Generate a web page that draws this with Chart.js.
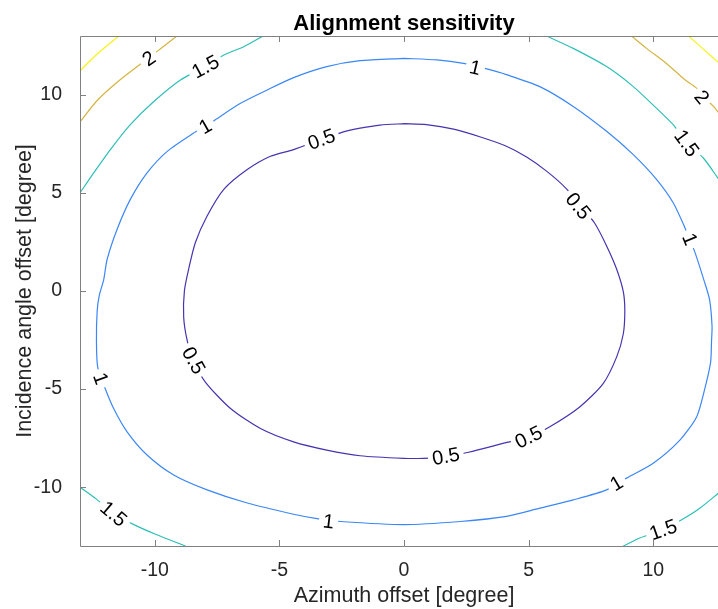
<!DOCTYPE html>
<html lang="en">
<head>
<meta charset="UTF-8" />
<title>Alignment sensitivity</title>
<script src="https://cdn.jsdelivr.net/npm/chart.js"></script>
<style>
  html, body { margin:0; padding:0; background:#fff; overflow:hidden; }
  #wrap { width:718px; height:609px; overflow:hidden; position:relative; }
  #contour { position:absolute; left:0; top:0; }
</style>
</head>
<body>
<div id="wrap"><canvas id="contour" width="728" height="609"></canvas></div>
<script>
// --------- Contour data: [azimuth, incidence] in degrees ---------
const xTicks = [-10, -5, 0, 5, 10];
const yTicks = [-10, -5, 0, 5, 10];

const level05 = [
  [0.02,8.53],[0.90,8.48],[1.99,8.25],[3.07,7.85],[4.11,7.38],[4.92,6.83],[5.72,6.11],
  [6.52,5.21],[7.08,4.33],[7.64,3.48],[8.13,2.30],[8.53,1.12],[8.80,-0.04],[8.86,-1.00],
  [8.80,-2.18],[8.53,-3.37],[7.99,-4.72],[7.05,-5.91],[5.85,-6.92],[5.00,-7.45],[4.13,-7.72],
  [2.59,-8.22],[1.67,-8.44],[0.78,-8.53],[-0.02,-8.53],[-1.76,-8.40],[-3.10,-8.11],[-4.43,-7.69],
  [-5.76,-7.01],[-6.96,-5.99],[-7.97,-4.64],[-8.45,-3.54],[-8.70,-2.52],[-8.84,-1.34],[-8.81,0.02],
  [-8.64,1.12],[-8.37,2.47],[-7.90,3.82],[-7.23,5.18],[-6.29,6.19],[-5.36,6.87],[-4.43,7.21],
  [-3.31,7.73],[-2.46,8.10],[-1.76,8.30],[-0.96,8.46],[0.02,8.53]
];
const level10 = [
  [0.02,11.86],[1.32,11.78],[2.39,11.60],[3.32,11.32],[4.11,11.03],[5.45,10.42],[6.79,9.41],
  [8.13,8.14],[9.20,6.95],[10.13,5.69],[10.80,4.50],[11.27,3.23],[11.66,2.02],[12.03,0.57],
  [12.26,-0.44],[12.36,-1.80],[12.34,-2.52],[12.30,-3.65],[12.03,-5.18],[11.74,-6.42],[11.07,-7.60],
  [10.00,-8.78],[8.93,-9.54],[8.13,-10.14],[6.79,-10.65],[5.45,-11.07],[4.11,-11.49],[2.26,-11.75],
  [-0.02,-11.91],[-2.56,-11.75],[-3.43,-11.62],[-4.43,-11.38],[-6.29,-10.81],[-7.90,-10.14],
  [-9.24,-9.38],[-10.31,-8.36],[-11.11,-7.18],[-11.65,-5.99],[-11.99,-4.97],[-12.29,-3.88],
  [-12.34,-2.52],[-12.31,-1.00],[-12.22,-0.19],[-12.05,0.57],[-11.91,1.62],[-11.51,3.15],
  [-10.98,4.67],[-10.31,6.02],[-9.50,7.12],[-8.44,8.05],[-7.97,8.39],[-7.57,8.73],[-6.56,9.57],
  [-5.49,10.25],[-4.43,10.88],[-3.10,11.44],[-1.76,11.74],[0.02,11.86]
];
const level15TopLeft = [
  [-13,5.0],[-12.45,6.02],[-11.78,7.21],[-10.98,8.48],[-10.04,9.66],[-8.97,10.76],[-7.97,11.44],
  [-7.23,12.03],[-6.43,12.45],[-5.65,13]
];
const level15TopRight = [
  [5.72,13],[6.79,12.37],[8.13,11.44],[9.20,10.42],[10.13,9.32],[10.80,8.48],[11.34,7.54],
  [12.01,6.78],[12.63,5.69]
];
const level15BottomLeft = [
  [-13,-10.0],[-12.34,-10.61],[-11.65,-11.36],[-10.84,-11.91],[-9.97,-12.40],[-8.77,-13]
];
const level15BottomRight = [
  [8.80,-13],[9.46,-12.59],[10.40,-12.17],[11.14,-11.66],[11.87,-11.07],[12.62,-10.30]
];
const level20TopLeft = [
  [-13,8.62],[-12.31,9.71],[-11.51,10.64],[-10.57,11.57],[-10.24,11.86],[-9.84,12.28],[-9.11,13]
];
const level20TopRight = [
  [9.13,13],[9.73,12.37],[10.53,11.60],[11.26,10.78],[11.74,10.34],[12.07,9.83],[12.42,9.41],[12.62,9.10]
];
const level25TopLeft = [[-13,11.23],[-12.31,12.08],[-11.44,13]];
const level25TopRight = [[11.42,13],[12.02,12.32],[12.62,11.64]];

// inline label spots: [level, azimuth, incidence]
const labelSpots = [
  [0.5,-3.31,7.73],[0.5,6.99,4.33],[0.5,5.00,-7.45],[0.5,1.68,-8.43],[0.5,-8.44,-3.54],
  [1,2.86,11.39],[1,11.47,2.64],[1,8.53,-9.80],[1,-3.03,-11.75],[1,-12.17,-4.47],[1,-7.97,8.39],
  [1.5,-7.97,11.44],[1.5,11.34,7.54],[1.5,-11.65,-11.36],[1.5,10.40,-12.17],
  [2,-10.24,11.86],[2,11.95,9.88]
];

// --------- Styling ---------
const FONT = '"Liberation Sans", Arial, Helvetica, sans-serif';
const levelColor = {0.5:'#4634b0', 1:'#3b87f7', 1.5:'#2dbfb5', 2:'#d4b440', 2.5:'#f6f418'};
const axisColor = '#808080';
const textColor = '#262626';

const paths = [
  [0.5, level05], [1, level10],
  [1.5, level15TopLeft], [1.5, level15TopRight], [1.5, level15BottomLeft], [1.5, level15BottomRight],
  [2, level20TopLeft], [2, level20TopRight],
  [2.5, level25TopLeft], [2.5, level25TopRight]
];

const datasets = paths.map(([lev, pts]) => ({
  level: lev,
  data: pts.map(([x, y]) => ({x, y})),
  showLine: true,
  borderColor: levelColor[lev],
  borderWidth: 1.2,
  pointRadius: 0,
  tension: 0.25,
  fill: false
}));

// --------- Plugins: inline labels, frame/ticks/title ---------
const contourLabels = {
  id: 'contourLabels',
  afterDatasetsDraw(chart) {
    const {ctx, scales: {x, y}} = chart;
    ctx.save();
    ctx.font = `20px ${FONT}`;
    ctx.textAlign = 'center';
    ctx.textBaseline = 'middle';
    labelSpots.forEach(([lev, lx, ly]) => {
      const px = x.getPixelForValue(lx), py = y.getPixelForValue(ly);
      // nearest segment of a path with the same level gives the text direction
      let best = Infinity, ang = 0;
      chart.data.datasets.forEach(ds => {
        if (ds.level !== lev) return;
        for (let i = 1; i < ds.data.length; i++) {
          const ax = x.getPixelForValue(ds.data[i-1].x), ay = y.getPixelForValue(ds.data[i-1].y);
          const bx = x.getPixelForValue(ds.data[i].x), by = y.getPixelForValue(ds.data[i].y);
          const dx = bx - ax, dy = by - ay, len2 = dx*dx + dy*dy || 1;
          let t = ((px-ax)*dx + (py-ay)*dy) / len2;
          t = Math.max(0, Math.min(1, t));
          const d = Math.hypot(ax + t*dx - px, ay + t*dy - py);
          if (d < best) { best = d; ang = Math.atan2(dy, dx); }
        }
      });
      if (ang > Math.PI/2) ang -= Math.PI;
      if (ang < -Math.PI/2) ang += Math.PI;
      const txt = String(lev);
      const w = ctx.measureText(txt).width;
      ctx.save();
      ctx.translate(px, py);
      ctx.rotate(ang);
      ctx.fillStyle = '#fff';
      ctx.fillRect(-w/2 - 4, -8, w + 8, 16);
      ctx.fillStyle = '#000';
      ctx.fillText(txt, 0, 1);
      ctx.restore();
    });
    ctx.restore();
  }
};

// box on the left, top and bottom sides with inward ticks; right side runs past the page edge
const frame = {
  id: 'frame',
  afterDraw(chart) {
    const {ctx, chartArea: a, scales: {x, y}} = chart;
    ctx.save();
    ctx.strokeStyle = axisColor;
    ctx.lineWidth = 1;
    ctx.beginPath();
    ctx.moveTo(a.right, a.top + 0.5); ctx.lineTo(a.left + 0.5, a.top + 0.5);
    ctx.lineTo(a.left + 0.5, a.bottom + 0.5); ctx.lineTo(a.right, a.bottom + 0.5);
    xTicks.forEach(v => {
      const p = Math.round(x.getPixelForValue(v)) + 0.5;
      ctx.moveTo(p, a.bottom); ctx.lineTo(p, a.bottom - 6);
      ctx.moveTo(p, a.top); ctx.lineTo(p, a.top + 6);
    });
    yTicks.forEach(v => {
      const p = Math.round(y.getPixelForValue(v)) + 0.5;
      ctx.moveTo(a.left, p); ctx.lineTo(a.left + 6, p);
    });
    ctx.stroke();
    ctx.fillStyle = '#000';
    ctx.font = `bold 22px ${FONT}`;
    ctx.textAlign = 'center';
    ctx.textBaseline = 'alphabetic';
    ctx.fillText('Alignment sensitivity', (a.left + a.right) / 2, 30);
    ctx.restore();
  }
};

new Chart(document.getElementById('contour'), {
  type: 'scatter',
  data: {datasets},
  plugins: [contourLabels, frame],
  options: {
    responsive: false,
    animation: false,
    devicePixelRatio: 1,
    layout: {padding: {top: 36, left: 0, right: 0, bottom: 0}},
    plugins: {legend: {display: false}, tooltip: {enabled: false}, title: {display: false}},
    scales: {
      x: {
        type: 'linear', min: -13, max: 13,
        afterBuildTicks: s => { s.ticks = xTicks.map(v => ({value: v})); },
        afterFit: s => { s.height = 63; },
        grid: {display: false},
        border: {display: false},
        ticks: {color: textColor, padding: 5, maxRotation: 0, font: {family: FONT, size: 19.5}},
        title: {display: true, text: 'Azimuth offset [degree]', color: textColor,
                padding: {top: 4, bottom: 0}, font: {family: FONT, size: 21.5}}
      },
      y: {
        type: 'linear', min: -13, max: 13,
        afterBuildTicks: s => { s.ticks = yTicks.map(v => ({value: v})); },
        afterFit: s => { s.width = 80; },
        grid: {display: false},
        border: {display: false},
        ticks: {color: textColor, padding: 10, font: {family: FONT, size: 19.5}},
        title: {display: true, text: 'Incidence angle offset [degree]', color: textColor,
                padding: {top: 12, bottom: 4}, font: {family: FONT, size: 21.5}}
      }
    }
  }
});
</script>
</body>
</html>
